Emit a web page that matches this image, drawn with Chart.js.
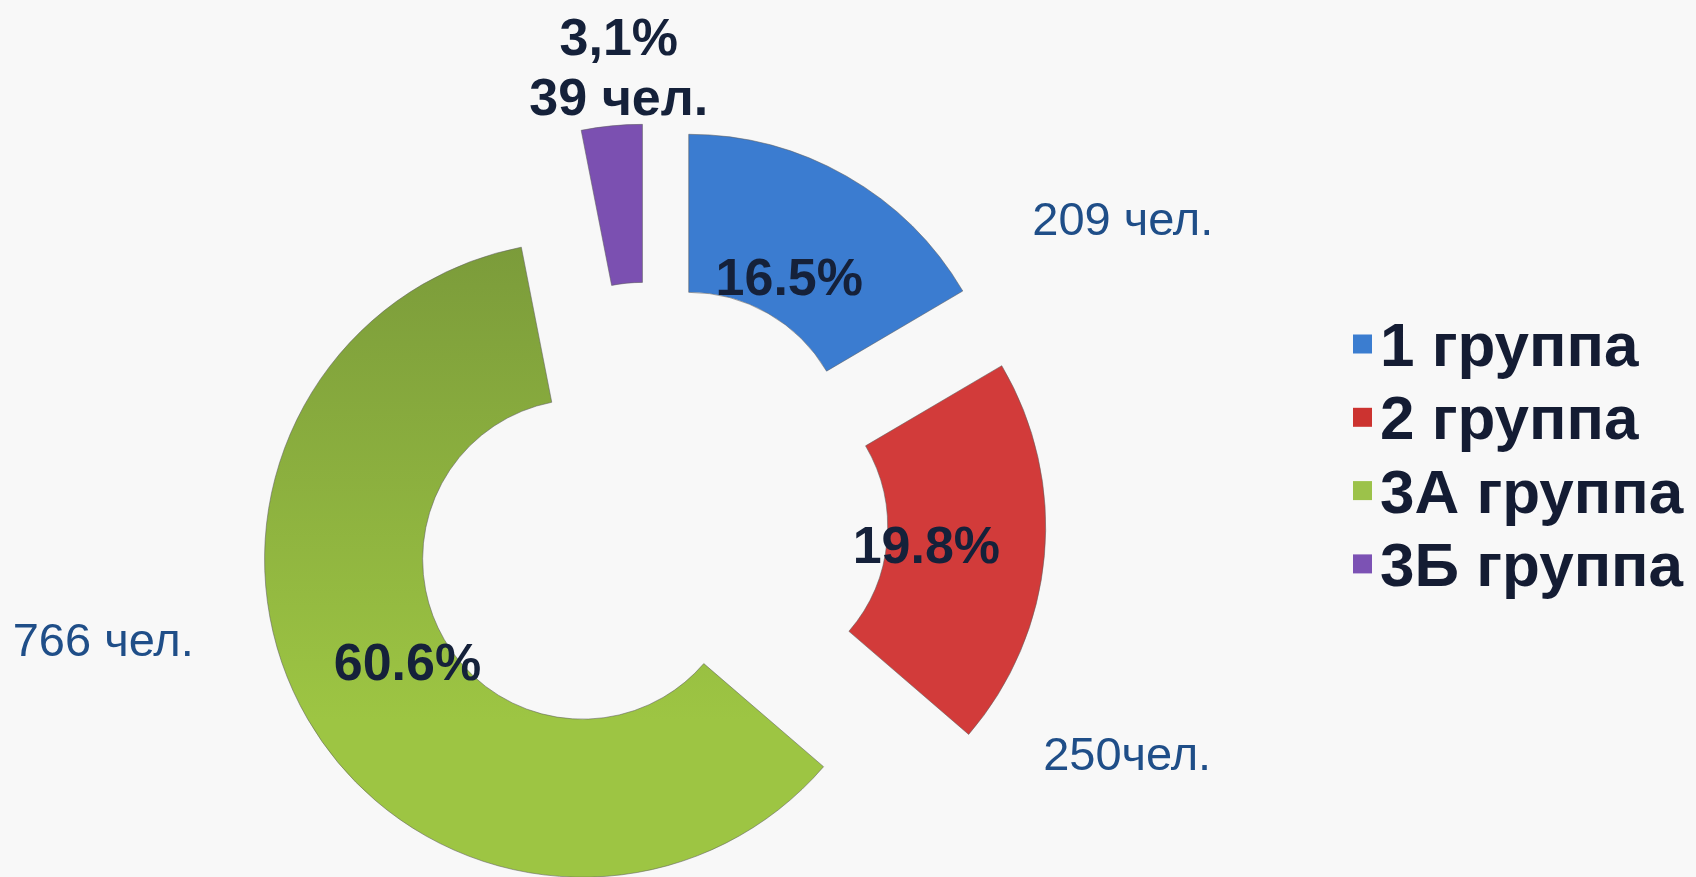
<!DOCTYPE html>
<html>
<head>
<meta charset="utf-8">
<script src="https://cdn.jsdelivr.net/npm/chart.js@4.4.1/dist/chart.umd.min.js"></script>
<style>
  html, body { margin: 0; padding: 0; background: #f8f8f8; overflow: hidden; }
  canvas { display: block; }
</style>
</head>
<body>
<canvas id="c" width="1696" height="877"></canvas>
<script>
// ---- data ----
const categories = ['1 группа', '2 группа', '3А группа', '3Б группа'];
const peopleCounts = [209, 250, 766, 39];
const percentLabels = ['16.5%', '19.8%', '60.6%', '3,1%'];
const countLabels = ['209 чел.', '250чел.', '766 чел.', '39 чел.'];

// ---- styles ----
const sliceColors = ['#3b7cd0', '#d23b3a', '#8db341', '#7b50b1'];
const legendColors = ['#3b7dd0', '#cc3330', '#9cc24a', '#7c52b4'];
const FONT = '"Liberation Sans", Arial, sans-serif';

function greenGradient(context) {
  const chart = context.chart;
  const area = chart.chartArea;
  if (!area) return sliceColors[2];
  const cy = (area.top + area.bottom) / 2;
  const g = chart.ctx.createLinearGradient(0, cy - 290, 0, cy + 200);
  g.addColorStop(0, '#7a9a3a');
  g.addColorStop(1, '#9dc543');
  return g;
}

// shift each slice outward along its middle angle (exploded doughnut)
const explodePlugin = {
  id: 'explode',
  afterDatasetsUpdate(chart, args, opts) {
    const meta = chart.getDatasetMeta(0);
    meta.data.forEach((arc) => {
      const mid = (arc.startAngle + arc.endAngle) / 2;
      arc.x += Math.cos(mid) * opts.distance;
      arc.y += Math.sin(mid) * opts.distance;
    });
  }
};

function drawText(ctx, text, x, cy, size, weight, color) {
  ctx.font = weight + ' ' + size + 'px ' + FONT;
  ctx.fillStyle = color;
  ctx.textAlign = 'center';
  ctx.textBaseline = 'alphabetic';
  ctx.fillText(text, x, cy + size * 0.358);
}

function polar(arc, deg, r) {
  const a = (deg - 90) * Math.PI / 180;
  return { x: arc.x + Math.cos(a) * r, y: arc.y + Math.sin(a) * r };
}

const labelPlugin = {
  id: 'sliceLabels',
  afterDatasetsDraw(chart, args, o) {
    const ctx = chart.ctx;
    const meta = chart.getDatasetMeta(0);
    ctx.save();
    meta.data.forEach((arc, i) => {
      const place = o.placement[i];
      if (place.ring !== undefined) {
        const mid = (arc.startAngle + arc.endAngle) / 2;
        const r = arc.innerRadius + place.ring * (arc.outerRadius - arc.innerRadius);
        drawText(ctx, percentLabels[i], arc.x + Math.cos(mid) * r, arc.y + Math.sin(mid) * r,
                 o.pctSize, 'bold', o.pctColor);
        const c = polar(arc, place.countDeg, place.countR);
        drawText(ctx, countLabels[i], c.x, c.y, o.countSize, 'normal', o.countColor);
      } else {
        const c = polar(arc, place.deg, arc.outerRadius + place.gap);
        drawText(ctx, percentLabels[i], c.x, c.y - place.lineGap / 2, o.pctSize, 'bold', o.pctColor);
        drawText(ctx, countLabels[i], c.x, c.y + place.lineGap / 2, o.pctSize, 'bold', o.pctColor);
      }
    });
    ctx.restore();
  }
};

const legendPlugin = {
  id: 'sideLegend',
  afterDraw(chart, args, o) {
    const ctx = chart.ctx;
    ctx.save();
    categories.forEach((name, i) => {
      const cy = o.top + i * o.step;
      ctx.fillStyle = legendColors[i];
      ctx.fillRect(o.x, cy - o.box / 2, o.box, o.box);
      ctx.font = 'bold ' + o.size + 'px ' + FONT;
      ctx.fillStyle = o.color;
      ctx.textAlign = 'left';
      ctx.textBaseline = 'alphabetic';
      ctx.fillText(name, o.textX, cy + o.size * 0.358);
    });
    ctx.restore();
  }
};

new Chart(document.getElementById('c'), {
  type: 'doughnut',
  data: {
    labels: categories,
    datasets: [{
      data: peopleCounts,
      backgroundColor: (ctx) => ctx.dataIndex === 2 ? greenGradient(ctx) : sliceColors[ctx.dataIndex],
      borderColor: 'rgba(95,95,95,0.55)',
      borderWidth: 1,
      clip: false
    }]
  },
  options: {
    responsive: false,
    devicePixelRatio: 1,
    animation: false,
    events: [],
    radius: 318,
    cutout: '50.3%',
    layout: { padding: { left: 300, right: 696, top: 170, bottom: 7 } },
    plugins: {
      legend: { display: false },
      tooltip: { enabled: false },
      explode: { distance: 78 },
      sliceLabels: {
        pctSize: 52, pctColor: '#15213a',
        countSize: 47, countColor: '#1f4e88',
        placement: [
          { ring: 0.27, countDeg: 61.7, countR: 493 },
          { ring: 0.25, countDeg: 119.5, countR: 459 },
          { ring: 0.27, countDeg: 260.5, countR: 486 },
          { deg: 356.4, gap: 59, lineGap: 60 }
        ]
      },
      sideLegend: { x: 1353, box: 19, textX: 1380, top: 344, step: 73.3, size: 62, color: '#141c33' }
    }
  },
  plugins: [explodePlugin, labelPlugin, legendPlugin]
});
</script>
</body>
</html>
